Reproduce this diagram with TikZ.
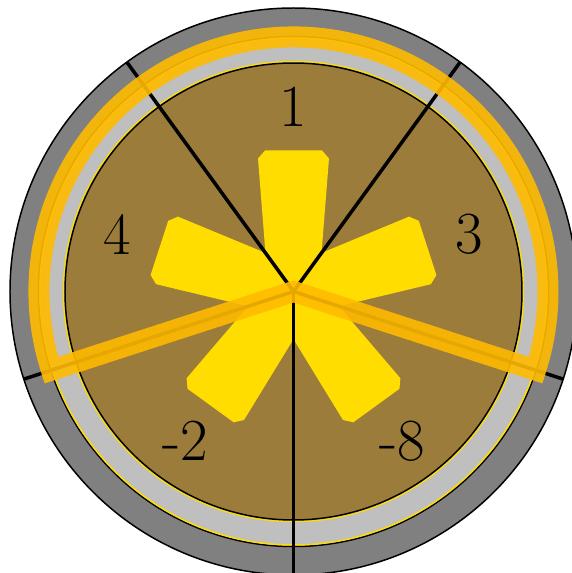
\documentclass[tikz,border=0pt]{standalone}
\usepackage{tikz}
\definecolor{coinbrown}{HTML}{9C7C3A}
\definecolor{stargold}{HTML}{FFDD00}
\definecolor{ringgray}{HTML}{BFBFBF}
\definecolor{rimgray}{HTML}{808080}
\definecolor{amber}{HTML}{FFBB00}
\tikzset{
  rim/.style={draw=black, line width=0.85pt, fill=rimgray},
  ring/.style={draw=black, line width=0.85pt, fill=ringgray},
  trim/.style={draw=stargold, line width=0.85pt},
  face/.style={draw=black, line width=0.85pt, fill=coinbrown},
  arm/.style={fill=stargold},
  spoke/.style={line width=2pt, black},
  num/.style={font=\fontsize{34}{40}\selectfont, inner sep=0pt},
  band/.style={draw=amber, line width=0.42cm, opacity=0.9},
}

\begin{document}
\begin{tikzpicture}
\useasboundingbox (-5.87,-5.63) rectangle (5.57,5.83);
\clip (-5.87,-5.63) rectangle (5.57,5.83);
% rim, ring and face of the coin
\path[rim] (0,0) circle (5.67);
\path[ring] (0,0) circle (5.1);
\draw[trim] (0,0) circle (5.07);
\draw[trim] (0,0) circle (4.6);
\path[face] (0,0) circle (4.57);
% star arms
\foreach \a in {18,90,162,234,306}
  \fill[arm, rotate=\a] (0,-0.5) -- (2.66,-0.71) -- (2.82,-0.57) -- (2.82,0.57) -- (2.66,0.71) -- (0,0.5) -- cycle;
% spokes between the arms
\foreach \a in {54,126,198,270,342}
  \draw[spoke] (0,0) -- (\a:5.67);
% sector values
\foreach \a/\t [count=\i] in {90/1, 18/3, 162/4, 234/-2, 306/-8}
  \node[num] (val\i) at (\a:3.7) {\t};
% highlighted sector
\draw[band] (0,0) -- (198:5.09) arc[start angle=198, end angle=-18, radius=5.09] -- cycle;
\end{tikzpicture}
\end{document}
